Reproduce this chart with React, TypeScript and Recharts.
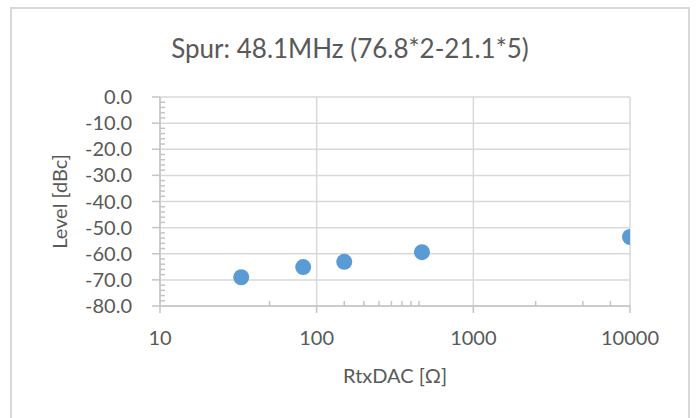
import React from 'react';
import { ScatterChart, Scatter, XAxis, YAxis, CartesianGrid } from 'recharts';

// ---- data ----
const rtxDacOhm = [33, 82, 150, 470, 10000];
const levelDbc = [-69.0, -65.1, -63.1, -59.4, -53.6];

const xMajorTicks = [10, 100, 1000, 10000];
const xMinorTicks = [50, 150, 200, 250, 300, 350, 400, 450, 2500, 5000, 7500];
const yMajorTicks = [-80, -70, -60, -50, -40, -30, -20, -10, 0];
const yMinorTicks = [
  -78, -76, -74, -72, -68, -66, -64, -62, -58, -56, -54, -52, -48, -46, -44, -42,
  -38, -36, -34, -32, -28, -26, -24, -22, -18, -16, -14, -12, -8, -6, -4, -2,
];

const chartTitle = 'Spur: 48.1MHz (76.8*2-21.1*5)';
const xTitle = 'RtxDAC [Ω]';
const yTitle = 'Level [dBc]';

const points = rtxDacOhm.map((x, i) => ({ x, y: levelDbc[i] }));

const FONT = 'Lato, "Open Sans", sans-serif';
const TEXT = '#595959';
const GRID = '#d9d9d9';
const AXIS = '#c4c4c4';
const DOT = '#5b9bd5';

const renderXTitle = (props: any) => {
  const vb = props.viewBox || {};
  return (
    <text
      x={vb.x + vb.width / 2}
      y={vb.y + 77}
      textAnchor="middle"
      fill={TEXT}
      fontSize={20}
      fontFamily={FONT}
    >
      {xTitle}
    </text>
  );
};

const renderYTitle = (props: any) => {
  const vb = props.viewBox || {};
  const cx = vb.x + 67;
  const cy = vb.y + vb.height / 2;
  return (
    <text
      x={0}
      y={0}
      transform={`translate(${cx},${cy}) rotate(-90)`}
      textAnchor="middle"
      fill={TEXT}
      fontSize={20}
      fontFamily={FONT}
    >
      {yTitle}
    </text>
  );
};

const renderDot = (props: any) => (
  <circle cx={props.cx} cy={props.cy} r={8} fill={DOT} />
);

const renderNothing = () => <g />;

export default function App() {
  return (
    <div
      style={{
        position: 'absolute',
        left: 0,
        top: 0,
        width: 697,
        height: 418,
        overflow: 'hidden',
        background: '#ffffff',
      }}
    >
      <div
        style={{
          position: 'absolute',
          left: 10,
          top: 7,
          width: 680,
          height: 440,
          boxSizing: 'border-box',
          border: `2px solid ${GRID}`,
        }}
      />
      <div
        style={{
          position: 'absolute',
          left: 0,
          top: 35,
          width: 700,
          textAlign: 'center',
          fontFamily: FONT,
          fontSize: 26,
          lineHeight: '26px',
          color: TEXT,
        }}
      >
        {chartTitle}
      </div>
      <div style={{ position: 'absolute', left: 0, top: 0 }}>
        <ScatterChart
          width={697}
          height={418}
          margin={{ top: 97, right: 67, bottom: 42, left: 0 }}
        >
          <CartesianGrid stroke={GRID} strokeWidth={1.5} />
          <XAxis
            dataKey="x"
            type="number"
            scale="log"
            domain={[10, 10000]}
            allowDataOverflow
            ticks={xMajorTicks}
            interval={0}
            height={70}
            tickSize={7}
            tickMargin={18}
            tick={{ fill: TEXT, fontSize: 20, fontFamily: FONT }}
            tickLine={{ stroke: AXIS, strokeWidth: 1.5 }}
            axisLine={{ stroke: AXIS, strokeWidth: 1.5 }}
            label={renderXTitle}
          />
          <XAxis
            xAxisId="minor"
            dataKey="x"
            type="number"
            scale="log"
            domain={[10, 10000]}
            allowDataOverflow
            ticks={xMinorTicks}
            interval={0}
            mirror
            tickSize={5}
            tick={renderNothing}
            tickLine={{ stroke: AXIS, strokeWidth: 1.5 }}
            axisLine={false}
          />
          <YAxis
            dataKey="y"
            type="number"
            domain={[-80, 0]}
            allowDataOverflow
            ticks={yMajorTicks}
            interval={0}
            width={160}
            tickSize={8}
            tickMargin={20}
            tickFormatter={(v: number) => v.toFixed(1)}
            tick={{ fill: TEXT, fontSize: 20, fontFamily: FONT }}
            tickLine={{ stroke: AXIS, strokeWidth: 1.5 }}
            axisLine={{ stroke: AXIS, strokeWidth: 1.5 }}
            label={renderYTitle}
          />
          <YAxis
            yAxisId="minor"
            dataKey="y"
            type="number"
            domain={[-80, 0]}
            allowDataOverflow
            ticks={yMinorTicks}
            interval={0}
            mirror
            tickSize={5}
            tick={renderNothing}
            tickLine={{ stroke: AXIS, strokeWidth: 1.5 }}
            axisLine={false}
          />
          <Scatter
            xAxisId="minor"
            yAxisId="minor"
            data={points}
            shape={renderNothing}
            isAnimationActive={false}
          />
          <Scatter
            data={points}
            fill={DOT}
            shape={renderDot}
            isAnimationActive={false}
          />
        </ScatterChart>
      </div>
    </div>
  );
}
